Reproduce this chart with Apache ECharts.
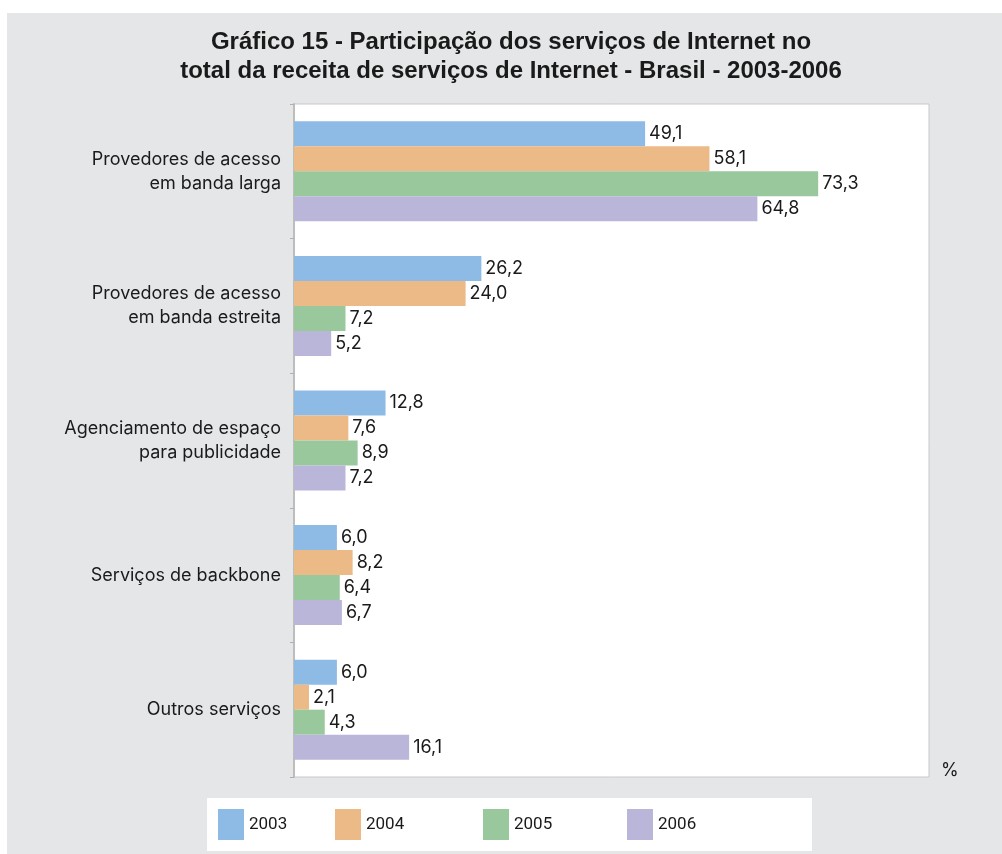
<html>
<head>
    <meta charset="utf-8">
    <title>Gráfico 15</title>
    <script src="https://cdn.jsdelivr.net/npm/echarts@6/dist/echarts.min.js"></script>
    <style>
        body { margin: 0; background: #ffffff; }
    </style>
</head>
<body>
    <div id="main" style="width: 1002px;height:854px;"></div>
    <script type="text/javascript">
        // dados
        var categorias = ['Provedores de acesso\nem banda larga', 'Provedores de acesso\nem banda estreita',
            'Agenciamento de espaço\npara publicidade', 'Serviços de backbone', 'Outros serviços'];
        var anos = ['2003', '2004', '2005', '2006'];
        var v2003 = [49.1, 26.2, 12.8, 6.0, 6.0];
        var v2004 = [58.1, 24.0, 7.6, 8.2, 2.1];
        var v2005 = [73.3, 7.2, 8.9, 6.4, 4.3];
        var v2006 = [64.8, 5.2, 7.2, 6.7, 16.1];
        var cores = ['#8dbbe6', '#ecba87', '#99c89c', '#bab6d9'];
        var titulo = 'Gráfico 15 - Participação dos serviços de Internet no\ntotal da receita de serviços de Internet - Brasil - 2003-2006';

        var fonte = 'Inter';
        var myChart = echarts.init(document.getElementById('main'));

        var valores = [v2003, v2004, v2005, v2006];
        var series = [];
        for (var i = 0; i < anos.length; i++) {
            series.push({
                name: anos[i],
                type: 'bar',
                data: valores[i],
                barWidth: 25,
                barGap: '0%',
                itemStyle: { color: cores[i] },
                label: {
                    show: true,
                    position: 'right',
                    distance: 4,
                    color: '#1a1a1a',
                    fontSize: 18,
                    fontFamily: fonte,
                    formatter: function (p) { return p.value.toFixed(1).replace('.', ','); }
                }
            });
        }

        // legenda: um bloco por ano, posições
        var legendX = [218, 335, 483, 627];
        var legends = [];
        for (var j = 0; j < anos.length; j++) {
            legends.push({
                data: [anos[j]],
                left: legendX[j],
                top: 809,
                padding: 0,
                itemWidth: 26,
                itemHeight: 31,
                itemGap: 0,
                selectedMode: false,
                icon: 'rect',
                textStyle: { fontSize: 17, color: '#1a1a1a', fontFamily: 'Roboto' }
            });
        }

        var option = {
            animation: false,
            textStyle: { fontFamily: fonte },
            graphic: [
                { type: 'rect', z: -10, shape: { x: 7, y: 13, width: 995, height: 841 }, style: { fill: '#e5e6e8' } },
                { type: 'rect', z: -9, shape: { x: 207, y: 798, width: 605, height: 53 }, style: { fill: '#ffffff' } },
                { type: 'text', left: 941, top: 762, style: { text: '%', fontSize: 18, fill: '#1a1a1a', fontFamily: fonte } },
                {
                    type: 'text', x: 511, y: 28,
                    style: {
                        text: titulo, textAlign: 'center', fill: '#1a1a1a', lineHeight: 29,
                        fontSize: 24, fontWeight: 'bold', fontFamily: 'Liberation Sans'
                    }
                }
            ],
            legend: legends,
            grid: {
                left: 294, right: 73, top: 104, bottom: 77,
                show: true, backgroundColor: '#ffffff', borderColor: '#c8c8c8', borderWidth: 1
            },
            xAxis: {
                type: 'value',
                min: 0,
                max: 88.8,
                show: false
            },
            yAxis: {
                type: 'category',
                inverse: true,
                data: categorias,
                axisLine: { show: true, lineStyle: { color: '#bdbdbd', width: 2 } },
                axisTick: { show: true, length: 4, lineStyle: { color: '#b0b0b0' } },
                axisLabel: { fontSize: 18, color: '#1a1a1a', lineHeight: 24, margin: 13, align: 'right', fontFamily: fonte }
            },
            series: series
        };

        myChart.setOption(option);
    </script>
</body>
</html>
